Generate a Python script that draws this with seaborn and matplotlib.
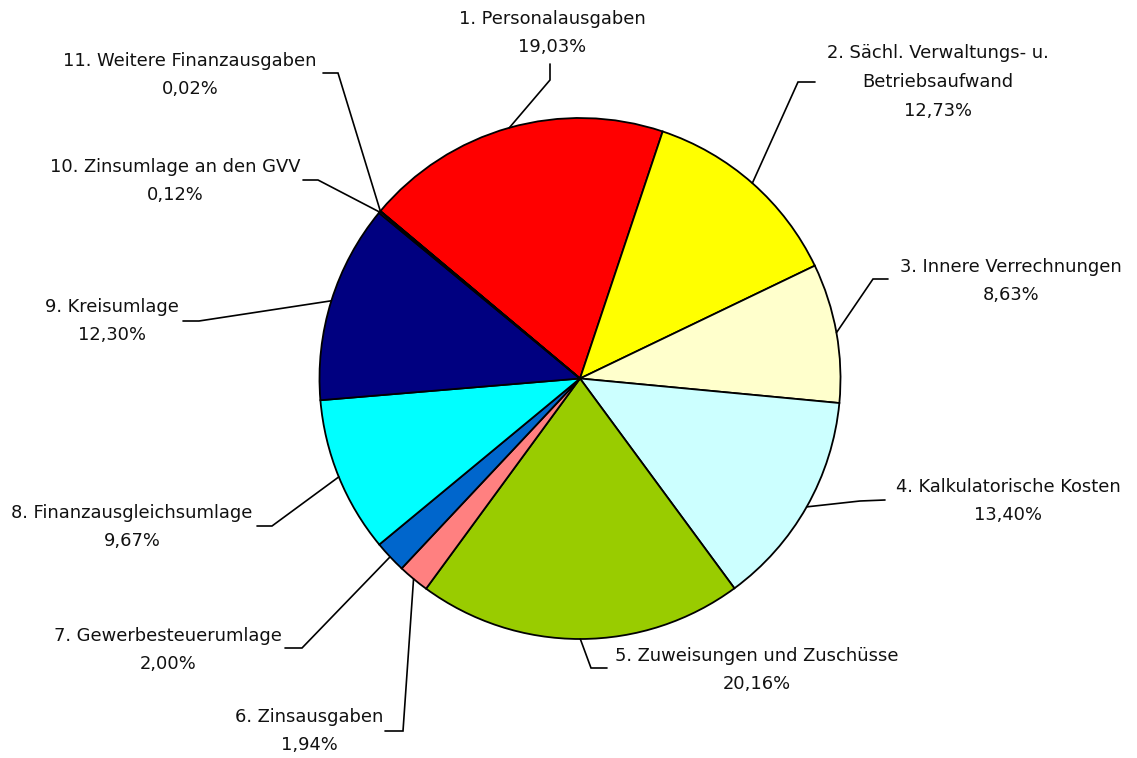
import numpy as np
import matplotlib.pyplot as plt
import seaborn as sns

# Ausgabenverteilung (Anteile in %)
labels = [
    "1. Personalausgaben",
    "2. Sächl. Verwaltungs- u.\nBetriebsaufwand",
    "3. Innere Verrechnungen",
    "4. Kalkulatorische Kosten",
    "5. Zuweisungen und Zuschüsse",
    "6. Zinsausgaben",
    "7. Gewerbesteuerumlage",
    "8. Finanzausgleichsumlage",
    "9. Kreisumlage",
    "10. Zinsumlage an den GVV",
    "11. Weitere Finanzausgaben",
]
shares = [19.03, 12.73, 8.63, 13.40, 20.16, 1.94, 2.00, 9.67, 12.30, 0.12, 0.02]
colors = ["#FF0000", "#FFFF00", "#FFFFCC", "#CCFFFF", "#99CC00", "#FF8080",
          "#0066CC", "#00FFFF", "#000080", "#FF00FF", "#800000"]

# label layout in pixel coords (x, y from top): text centre, elbow, stub end
text_pos = [(552, 33), (938, 82), (1011, 281), (1008, 501), (757, 670), (309, 731),
            (168, 650), (132, 527), (112, 321), (175, 181), (190, 75)]
elbows = [(550, 80), (798, 82), (873, 279), (860, 501), (591, 668), (403, 731),
          (302, 648), (272, 526), (199, 321), (318, 180), (338, 73)]
stubs = [(550, 64), (815, 82), (888, 279), (885, 500), (607, 668), (385, 731),
         (285, 648), (257, 526), (183, 321), (303, 180), (323, 73)]

W, H = 1137, 758
sns.set_theme(style="white")
plt.rcParams["font.family"] = ["DejaVu Sans"]

fig = plt.figure(figsize=(W / 100, H / 100), dpi=100)
ax = fig.add_axes([0, 0, 1, 1])
ax.set_xlim(0, W)
ax.set_ylim(0, H)
ax.set_aspect("equal")
ax.axis("off")

center = (580, H - 378.5)
radius = 260.5
wedges, _ = ax.pie(shares, colors=colors, startangle=140, counterclock=False,
                   center=center, radius=radius,
                   wedgeprops=dict(edgecolor="black", linewidth=1.3))

for i, w in enumerate(wedges):
    mid = np.deg2rad((w.theta1 + w.theta2) / 2)
    px = center[0] + radius * np.cos(mid)
    py = center[1] + radius * np.sin(mid)
    xs = [px, elbows[i][0], stubs[i][0]]
    ys = [py, H - elbows[i][1], H - stubs[i][1]]
    ax.plot(xs, ys, color="black", linewidth=1.2, solid_joinstyle="miter")
    txt = labels[i] + "\n" + f"{shares[i]:.2f}%".replace(".", ",")
    ax.text(text_pos[i][0], H - text_pos[i][1], txt, ha="center", va="center",
            fontsize=12.9, linespacing=1.75, color="#111111")

ax.set_xlim(0, W)
ax.set_ylim(0, H)
fig.savefig("out.png", dpi=100)
plt.close()
